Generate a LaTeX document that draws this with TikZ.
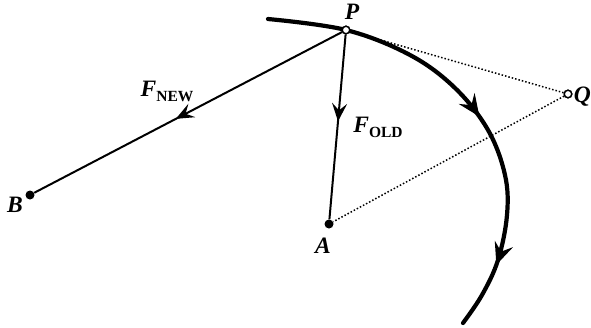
\documentclass[tikz,border=0pt]{standalone}
\usepackage{fontspec}
\setmainfont{Liberation Serif}
\usetikzlibrary{arrows.meta,decorations.markings}
\newcommand{\subtxt}[1]{\raisebox{-0.45ex}{\fontsize{15.5}{16}\selectfont\upshape\bfseries #1}}
\begin{document}
\begin{tikzpicture}[x=1pt,y=-1pt,
  opendot/.style={circle,draw,line width=1.4pt,fill=white,inner sep=0pt,minimum size=7.5pt},
  soliddot/.style={circle,fill,inner sep=0pt,minimum size=9pt},
  lbl/.style={font=\fontsize{23.5}{24}\selectfont\bfseries\itshape,inner sep=0pt},
  force/.style={line width=2pt},
  dotline/.style={line width=1.5pt,dotted},
  midarrow/.style={postaction={decorate},decoration={markings,
     mark=at position #1 with {\arrow{Stealth[length=18pt,width=15pt,inset=7pt]}}}},
  pathline/.style={line width=4.2pt,line cap=round}
]
\useasboundingbox (0,0) rectangle (591,327);
% points
\node[opendot] (P) at (346,30) {};
\node[opendot] (Q) at (568,94) {};
\node[soliddot] (A) at (329,224) {};
\node[soliddot] (B) at (30,195) {};
% dotted lines
\draw[dotline] (P) -- (Q);
\draw[dotline] (Q) -- (A);
% orbit curve
\draw[pathline,postaction={decorate},decoration={markings,
   mark=at position 0.52 with {\arrow{Stealth[length=22pt,width=19pt,inset=8pt]}},
   mark=at position 0.855 with {\arrow{Stealth[length=22pt,width=19pt,inset=8pt]}}}]
  plot[smooth,tension=0.6] coordinates {(268,19) (346,30) (410,55) (455,88) (488,130) (505,175) (507,215) (498,260) (482,295) (463,323)};
% forces
\draw[force,midarrow=0.54] (P) -- (B);
\draw[force,midarrow=0.47] (P) -- (A);
% redraw dots on top
\node[opendot] at (P) {};
\node[opendot] at (Q) {};
% labels
\node[lbl] (lP) at (352,12) {P};
\node[lbl] (lQ) [anchor=east] at (591,97) {Q};
\node[lbl] (lA) at (323,246) {A};
\node[lbl] (lB) at (15,205) {B};
\node[lbl] (lFn) at (167,91) {F\subtxt{NEW}};
\node[lbl] (lFo) at (378,127) {F\subtxt{OLD}};
\end{tikzpicture}
\end{document}
